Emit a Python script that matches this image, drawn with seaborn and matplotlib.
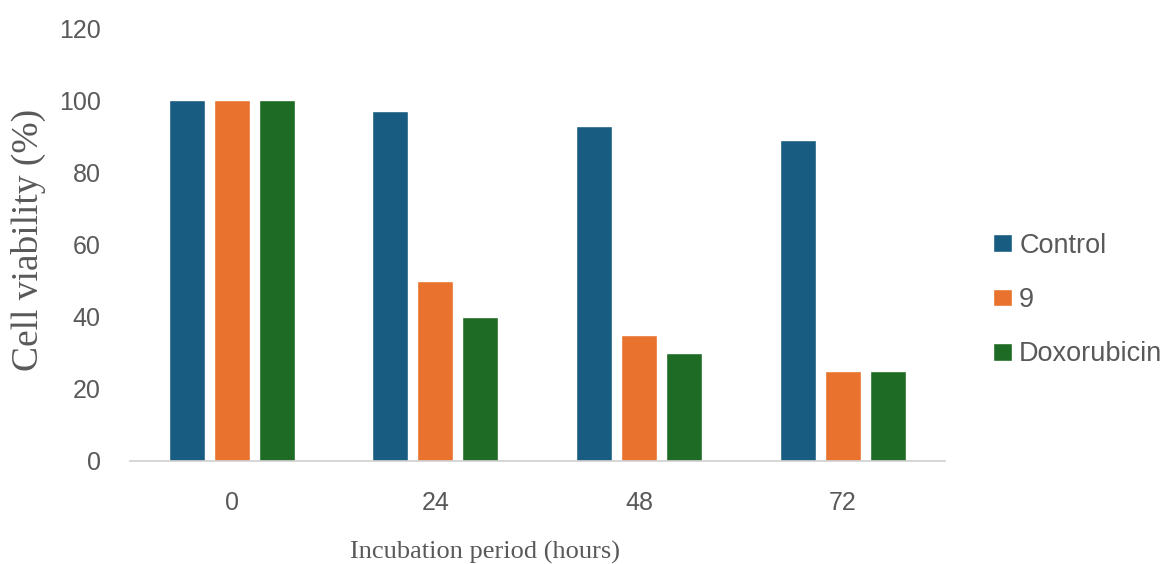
import pandas as pd
import matplotlib
matplotlib.use("Agg")
import matplotlib.pyplot as plt
import seaborn as sns

# Dados
periods = ["0", "24", "48", "72"]
groups = ["Control", "9", "Doxorubicin"]
control = [100, 97, 93, 89]
compound_9 = [100, 50, 35, 25]
doxorubicin = [100, 40, 30, 25]
y_ticks = [0, 20, 40, 60, 80, 100, 120]

colors = ["#195c82", "#e8722e", "#1d6b25"]
text_gray = "#595959"

# Tabela longa para o seaborn
df = pd.DataFrame({
    "period": periods * 3,
    "group": [g for g in groups for _ in periods],
    "viability": control + compound_9 + doxorubicin,
})

sns.set_style("white")
plt.rcParams["font.family"] = ["Liberation Sans", "DejaVu Sans"]

fig = plt.figure(figsize=(11.69, 5.64), dpi=100)
ax = fig.add_axes([0.111, 0.183, 0.697, 0.767])

sns.barplot(data=df, x="period", y="viability", hue="group", order=periods,
            hue_order=groups, palette=colors, width=0.663, gap=0.2,
            saturation=1, ax=ax, legend=True)

ax.set_ylim(0, 120)
ax.set_yticks(y_ticks)
ax.set_xlim(-0.5, 3.5)

for side in ["top", "right", "left"]:
    ax.spines[side].set_visible(False)
ax.spines["bottom"].set_color("#d0d0d0")
ax.spines["bottom"].set_linewidth(1.2)

ax.tick_params(axis="both", length=0, labelsize=18, labelcolor=text_gray)
ax.tick_params(axis="x", pad=22)
ax.tick_params(axis="y", pad=21)

ax.set_ylabel("Cell viability (%)", fontsize=27, color=text_gray,
              family="Liberation Serif")
ax.yaxis.set_label_coords(-0.103, 0.51)
ax.set_xlabel("Incubation period (hours)", fontsize=19, color=text_gray,
              family="Liberation Serif")
ax.xaxis.set_label_coords(0.436, -0.186)

# Legenda à direita
handles, labels = ax.get_legend_handles_labels()
ax.legend(handles, labels, loc="center left", bbox_to_anchor=(0.829, 0.468),
          bbox_transform=fig.transFigure, frameon=False, fontsize=19.5,
          labelcolor=text_gray, handlelength=0.7, handleheight=0.6,
          handletextpad=0.25, labelspacing=1.05)

fig.savefig("out.png", dpi=100)
